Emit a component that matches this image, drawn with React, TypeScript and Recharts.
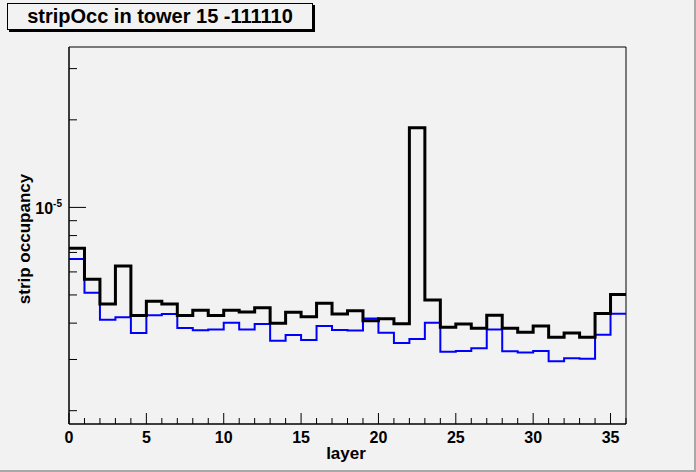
import { LineChart, Line, XAxis, YAxis, ReferenceArea } from 'recharts';

// bin index (layer) and occupancy per layer
const layers = [
  0, 1, 2, 3, 4, 5, 6, 7, 8, 9, 10, 11, 12, 13, 14, 15, 16, 17,
  18, 19, 20, 21, 22, 23, 24, 25, 26, 27, 28, 29, 30, 31, 32, 33, 34, 35,
];

const blackOcc = [
  7.23e-6, 5.66e-6, 4.65e-6, 6.29e-6, 4.25e-6, 4.76e-6, 4.65e-6, 4.25e-6, 4.43e-6,
  4.25e-6, 4.43e-6, 4.37e-6, 4.52e-6, 4.0e-6, 4.36e-6, 4.21e-6, 4.68e-6, 4.3e-6,
  4.41e-6, 4.08e-6, 4.14e-6, 3.98e-6, 1.88e-5, 4.8e-6, 3.87e-6, 3.97e-6, 3.84e-6,
  4.26e-6, 3.84e-6, 3.72e-6, 3.91e-6, 3.58e-6, 3.7e-6, 3.58e-6, 4.32e-6, 5.02e-6,
];

const blueOcc = [
  6.64e-6, 5.09e-6, 4.11e-6, 4.19e-6, 3.7e-6, 4.26e-6, 4.3e-6, 3.85e-6, 3.78e-6,
  3.8e-6, 4.01e-6, 3.8e-6, 3.97e-6, 3.48e-6, 3.64e-6, 3.5e-6, 3.91e-6, 3.79e-6,
  3.77e-6, 4.15e-6, 3.71e-6, 3.42e-6, 3.53e-6, 4.01e-6, 3.19e-6, 3.21e-6, 3.28e-6,
  3.8e-6, 3.2e-6, 3.17e-6, 3.21e-6, 2.96e-6, 3.03e-6, 3.02e-6, 3.65e-6, 4.31e-6,
];

const xTicks = [
  0, 1, 2, 3, 4, 5, 6, 7, 8, 9, 10, 11, 12, 13, 14, 15, 16, 17, 18,
  19, 20, 21, 22, 23, 24, 25, 26, 27, 28, 29, 30, 31, 32, 33, 34, 35, 36,
];
const xLabels = [0, 5, 10, 15, 20, 25, 30, 35];
const yTicks = [2e-6, 3e-6, 4e-6, 5e-6, 6e-6, 7e-6, 8e-6, 9e-6, 1e-5, 2e-5, 3e-5];
const yLabelled = 1e-5;

const xMax = layers.length;
const yDomain: [number, number] = [1.8e-6, 3.56e-5];

// step histogram: one point per bin edge, last edge repeats the last bin
const data = [...layers, xMax].map((edge, i) => ({
  layer: edge,
  black: blackOcc[Math.min(i, layers.length - 1)],
  blue: blueOcc[Math.min(i, layers.length - 1)],
}));

const font = '"Liberation Sans", Arial, sans-serif';

function XTick({ x, y, payload }: any) {
  const major = xLabels.includes(payload.value);
  return (
    <g>
      <line x1={x} x2={x} y1={y} y2={y - (major ? 11 : 6)} stroke="#000" strokeWidth={1} />
      {major && (
        <text x={x} y={y + 19} textAnchor="middle" fontFamily={font} fontWeight="bold" fontSize={16} fill="#000">
          {payload.value}
        </text>
      )}
    </g>
  );
}

function YTick({ x, y, payload }: any) {
  const major = payload.value === yLabelled;
  return (
    <g>
      <line x1={x} x2={x + (major ? 17 : 8)} y1={y} y2={y} stroke="#000" strokeWidth={1} />
      {major && (
        <text x={x - 7} y={y + 7} textAnchor="end" fontFamily={font} fontWeight="bold" fontSize={16} fill="#000">
          10<tspan dy={-7} fontSize={10}>-5</tspan>
        </text>
      )}
    </g>
  );
}

export default function App() {
  return (
    <div
      style={{
        position: 'absolute',
        left: 0,
        top: 0,
        width: 696,
        height: 472,
        background: '#f2f2f2',
        boxSizing: 'border-box',
        borderRight: '2px solid #a8a8a8',
        borderBottom: '2px solid #a8a8a8',
        overflow: 'hidden',
      }}
    >
      <div style={{ position: 'absolute', left: 0, top: 0 }}>
        <LineChart width={696} height={472} data={data} margin={{ left: 9, right: 70, top: 47, bottom: 18 }}>
          <XAxis
            type="number"
            dataKey="layer"
            domain={[0, xMax]}
            ticks={xTicks}
            interval={0}
            height={30}
            tickSize={0}
            tickMargin={0}
            tick={<XTick />}
            axisLine={{ stroke: '#000' }}
            tickLine={false}
          />
          <YAxis
            scale="log"
            type="number"
            domain={yDomain}
            allowDataOverflow
            ticks={yTicks}
            interval={0}
            width={60}
            tickSize={0}
            tickMargin={0}
            tick={<YTick />}
            axisLine={{ stroke: '#000' }}
            tickLine={false}
          />
          <ReferenceArea x1={0} x2={xMax} y1={yDomain[0]} y2={yDomain[1]} fill="none" stroke="#000" strokeWidth={1} />
          <Line
            type="stepAfter"
            dataKey="blue"
            stroke="#0000ff"
            strokeWidth={2}
            dot={false}
            activeDot={false}
            isAnimationActive={false}
          />
          <Line
            type="stepAfter"
            dataKey="black"
            stroke="#000000"
            strokeWidth={3}
            dot={false}
            activeDot={false}
            isAnimationActive={false}
          />
        </LineChart>
      </div>
      <div
        style={{
          position: 'absolute',
          left: 7,
          top: 3,
          width: 304,
          height: 25,
          border: '1px solid #000',
          boxShadow: '2px 2px 0 #000',
          background: '#f2f2f2',
          fontFamily: font,
          fontWeight: 'bold',
          fontSize: 20,
          lineHeight: '25px',
          textAlign: 'center',
          color: '#000',
        }}
      >
        stripOcc in tower 15 -111110
      </div>
      <div
        style={{
          position: 'absolute',
          left: 25,
          top: 239,
          transform: 'translate(-50%, -50%) rotate(-90deg)',
          whiteSpace: 'nowrap',
          fontFamily: font,
          fontWeight: 'bold',
          fontSize: 17,
          color: '#000',
        }}
      >
        strip occupancy
      </div>
      <div
        style={{
          position: 'absolute',
          left: 346,
          top: 454,
          transform: 'translate(-50%, -50%)',
          whiteSpace: 'nowrap',
          fontFamily: font,
          fontWeight: 'bold',
          fontSize: 17,
          color: '#000',
        }}
      >
        layer
      </div>
    </div>
  );
}
